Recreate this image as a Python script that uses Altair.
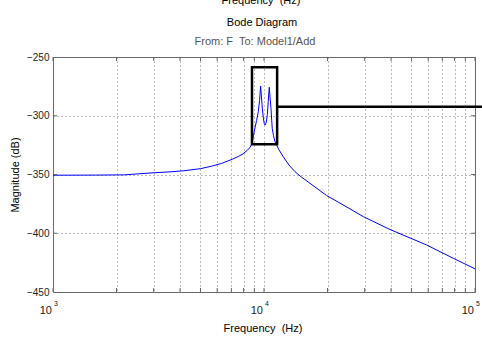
import altair as alt
import pandas as pd

# Magnitude response (frequency in Hz, magnitude in dB)
freq = [1000, 1585, 2188, 2512, 3020, 3548, 4169, 5012, 5623, 6310, 7079, 7586,
        7943, 8318, 8590, 8800, 8913, 9057, 9226, 9397, 9528, 9638, 9727, 9817,
        9931, 10023, 10116, 10233, 10375, 10471, 10593, 10691, 10789, 10940,
        11092, 11272, 11776, 12331, 13122, 14028, 14825, 16520, 19815, 24210,
        29580, 39540, 49200, 59020, 78890, 100000]
mag = [-350.6, -350.5, -350.3, -349.5, -348.5, -347.8, -346.8, -345.0, -343.0,
       -340.5, -337.0, -334.5, -332.5, -329.5, -327.0, -323.0, -317.0, -310.4,
       -304.0, -296.5, -287.0, -274.7, -284.0, -293.6, -302.0, -306.5, -308.0,
       -306.0, -299.0, -288.0, -275.8, -285.0, -293.6, -310.7, -317.0, -322.0,
       -329.0, -334.8, -341.9, -347.6, -351.3, -357.5, -367.9, -376.8, -385.9,
       -396.8, -404.0, -410.0, -421.3, -430.3]

x_grid = [1000, 2000, 3000, 4000, 5000, 6000, 7000, 8000, 9000,
          10000, 20000, 30000, 40000, 50000, 60000, 70000, 80000, 90000, 100000]
y_ticks = [-450, -400, -350, -300, -250]
y_inner = [-400, -350, -300]
decades = [1000, 10000, 100000]
decade_base = ["10", "10", "10"]
decade_exp = ["3", "4", "5"]

# Zoom box annotation (data coordinates)
box_x = [8770, 11540]
box_y = [-324.3, -258.8]
pointer_x = [11540, 107900]
pointer_y = [-292.3]

title_text = "Bode Diagram"
subtitle_text = "From: F\u00a0 To: Model1/Add"
x_title = "Frequency\u00a0 (Hz)"
y_title = "Magnitude (dB)"

FONT = "Liberation Sans"
W, H = 422, 235

curve = pd.DataFrame({"freq": freq, "mag": mag})
xs = alt.Scale(type="log", domain=[1000, 100000], nice=False)
ys = alt.Scale(domain=[-450, -250], nice=False, zero=False)

line = alt.Chart(curve).mark_line(color="#0000ff", strokeWidth=1, clip=True).encode(
    x=alt.X("freq:Q", scale=xs,
            axis=alt.Axis(values=x_grid, labels=False, ticks=False, domain=False,
                          grid=True, gridDash=[1, 3], gridColor="#777777",
                          gridWidth=1, title=None)),
    y=alt.Y("mag:Q", scale=ys,
            axis=alt.Axis(values=y_ticks, ticks=False, domain=False, grid=True,
                          gridDash=[1, 3], gridColor="#777777", gridWidth=1,
                          labelFont=FONT, labelFontSize=10, labelColor="#222222",
                          labelPadding=4, title=None)),
)

xt_df = pd.DataFrame({"freq": x_grid})
top_ticks = alt.Chart(xt_df).mark_rule(color="#666666").encode(
    x=alt.X("freq:Q", scale=xs), y=alt.value(0), y2=alt.value(4))
bot_ticks = alt.Chart(xt_df).mark_rule(color="#666666").encode(
    x=alt.X("freq:Q", scale=xs), y=alt.value(H - 4), y2=alt.value(H))
yt_df = pd.DataFrame({"mag": y_inner})
left_ticks = alt.Chart(yt_df).mark_rule(color="#666666").encode(
    y=alt.Y("mag:Q", scale=ys), x=alt.value(0), x2=alt.value(4))
right_ticks = alt.Chart(yt_df).mark_rule(color="#666666").encode(
    y=alt.Y("mag:Q", scale=ys), x=alt.value(W - 4), x2=alt.value(W))

box_df = pd.DataFrame({"x1": [box_x[0]], "x2": [box_x[1]],
                       "y1": [box_y[0]], "y2": [box_y[1]]})
box = alt.Chart(box_df).mark_rect(fill=None, fillOpacity=0, stroke="black",
                                  strokeWidth=2.5).encode(
    x=alt.X("x1:Q", scale=xs), x2="x2:Q",
    y=alt.Y("y1:Q", scale=ys), y2="y2:Q")

ptr_df = pd.DataFrame({"x1": [pointer_x[0]], "x2": [pointer_x[1]], "y": pointer_y})
pointer = alt.Chart(ptr_df).mark_rule(color="black", strokeWidth=2.5).encode(
    x=alt.X("x1:Q", scale=xs), x2="x2:Q", y=alt.Y("y:Q", scale=ys))

dec_df = pd.DataFrame({"freq": decades, "base": decade_base, "exp": decade_exp})
dec_base = alt.Chart(dec_df).mark_text(font=FONT, fontSize=11, align="right",
                                       baseline="alphabetic", dx=-1,
                                       color="#222222").encode(
    x=alt.X("freq:Q", scale=xs), y=alt.value(257), text="base:N")
dec_exp = alt.Chart(dec_df).mark_text(font=FONT, fontSize=7, align="left",
                                      baseline="alphabetic", dx=1,
                                      color="#222222").encode(
    x=alt.X("freq:Q", scale=xs), y=alt.value(249), text="exp:N")


def label(text, x, y, size=11, color="black", angle=0, baseline="alphabetic"):
    kw = dict(font=FONT, fontSize=size, align="center", baseline=baseline,
              color=color)
    if angle:
        kw["angle"] = angle
    return alt.Chart(pd.DataFrame({"t": [text]})).mark_text(**kw).encode(
        x=alt.value(x), y=alt.value(y), text="t:N")


t_top = label(x_title, 208, -53)
t_title = label(title_text, 209, -31)
t_sub = label(subtitle_text, 202, -12, color="#555555")
t_x = label(x_title, 210, 275)
t_y = label(y_title, -37, 118, angle=270, baseline="middle")

chart = alt.layer(
    line, top_ticks, bot_ticks, left_ticks, right_ticks, box, pointer,
    dec_base, dec_exp, t_top, t_title, t_sub, t_x, t_y
).properties(
    width=W, height=H,
    autosize=alt.AutoSizeParams(type="none"),
    padding={"left": 53, "top": 57, "right": 7, "bottom": 47},
    background="white",
).configure_view(stroke="#666666", strokeWidth=1)

chart.save("out.html", embed_options={"renderer": "svg", "actions": False})
